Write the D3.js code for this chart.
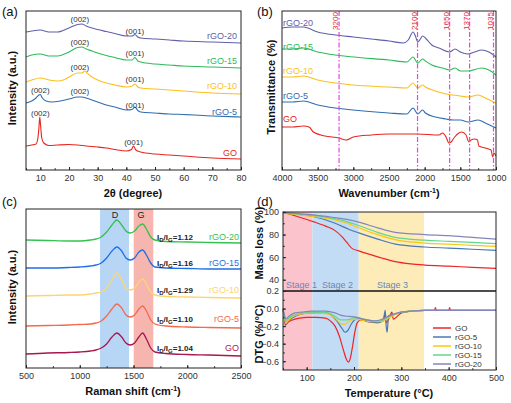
<!DOCTYPE html>
<html><head><meta charset="utf-8">
<script src="https://cdn.jsdelivr.net/npm/d3@7"></script>
<style>body{margin:0;background:#fff} text{font-family:"Liberation Sans",Arial,sans-serif}</style>
</head><body><script>
// ---------------- DATA ----------------
const samples = ["GO","rGO-5","rGO-10","rGO-15","rGO-20"];
// (a) XRD, [2theta, intensity a.u. incl. offset]
const xrdGO  = [[5,24],[7,25],[8.5,26],[9.1,31],[9.5,42],[9.8,53],[10.1,44],[10.5,32],[11.2,27],[13,24.5],[16,25],[20,25.5],[23,25],[26,24],[30,23],[33,22],[36,20.5],[40,19],[41.8,20.5],[42.5,24],[43.3,20],[45,18],[50,16],[55,15],[60,14],[70,12],[80,11]];
const xrd5   = [[5,67],[7,69],[8.5,72],[9.5,75],[10,75.5],[10.7,72],[12,69],[14,68],[17,69],[20,71],[23,73],[24.5,73],[26,72],[28,70],[30,68],[33,65],[36,63],[40,60],[42,60.5],[43,63],[44,59.5],[45,58],[50,57],[55,56],[60,55.5],[70,54],[80,53]];
const xrd10  = [[5,88],[7,90],[10,92],[13,90],[16,89],[18,90],[20,93],[23,97],[24.5,97],[25.5,99],[26.3,97],[28,93],[30,90],[33,87],[36,85],[40,83],[42,84],[43,86],[44,83],[45,82],[50,81],[55,80],[60,79],[70,77],[80,76]];
const xrd15  = [[5,113],[7,115],[10,116],[13,114],[16,114],[20,118],[23,122.5],[24.5,123],[26,121],[28,119],[30,117],[33,114.5],[36,112.5],[40,110],[42,110],[43,112.5],[44,109],[45,108],[50,106],[55,105],[60,104],[70,103],[80,102]];
const xrd20  = [[5,138],[7,139],[10,140],[13,138],[16,138],[20,142],[23,145.5],[24.5,146],[26,144],[28,142],[30,140.5],[33,138.5],[36,136.5],[40,134],[42,134],[43,135.5],[44,133],[45,132],[50,131],[55,130],[60,129],[70,128],[80,127]];
const xrdPeakLabels = [["(002)",10,57],["(001)",42.5,28],["(002)",10,80],["(002)",23.8,79],["(001)",43,65],["(002)",23.8,103],["(001)",43,91],["(002)",23.8,128],["(001)",43,117],["(002)",23.8,151],["(001)",43,139]];
const xrdNameY = [17,58,84,109,134];

// (b) FTIR, [wavenumber, transmittance a.u. incl. offset]
const ftirGO = [[4000,43],[3850,43],[3700,44],[3620,43],[3560,38],[3400,34],[3200,32],[3100,30],[3000,33],[2750,35],[2500,36],[2100,36],[1800,35],[1750,37],[1700,33],[1660,27],[1630,28],[1580,33],[1520,37],[1480,38],[1420,35],[1380,28],[1350,30],[1300,31],[1260,30],[1240,24],[1150,22],[1070,20],[1045,13],[1030,17],[1000,14]];
const ftir5  = [[4000,68],[3850,68],[3700,69],[3500,65],[3000,60],[2500,57],[2250,56],[2163,62],[2097,56],[2030,60],[1990,57],[1850,53],[1700,51],[1600,50],[1500,50],[1391,48],[1250,50],[1150,47],[1000,42]];
const ftir10 = [[4000,93],[3850,93],[3700,94],[3500,90],[3000,85],[2500,83],[2250,82],[2163,87],[2097,82],[2030,85],[1990,83],[1850,79],[1700,76],[1600,75],[1500,74],[1391,73],[1250,75],[1150,72],[1000,67]];
const ftir15 = [[4000,121],[3850,121],[3700,122],[3500,118],[3000,113],[2500,110],[2250,108],[2163,113],[2097,107],[2030,111],[1990,109],[1900,105],[1750,102],[1650,100],[1574,102],[1500,99],[1391,99],[1200,102],[1100,100],[1000,95]];
const ftir20 = [[4000,142],[3850,143],[3700,143],[3500,138],[3250,135],[3000,133],[2750,131],[2500,129],[2300,127],[2230,130],[2163,138],[2130,134],[2097,128],[2060,131],[2030,134],[1990,132],[1940,128],[1900,125],[1800,122],[1650,118],[1574,121],[1500,118],[1391,116],[1300,118],[1200,120],[1100,118],[1000,113]];
const ftirBands = [3200,2100,1650,1370,1035];
const ftirNameY = [51,74,99,123,147];

// (c) Raman, [shift, intensity a.u. incl. offset]
const ramanX = [500,700,900,1000,1100,1150,1200,1250,1300,1345,1390,1430,1470,1510,1550,1585,1620,1660,1700,1800,2000,2200,2500];
const ramanGO  = [14,15,15.5,16,17,18,20,24,31,35,31,25,23,25,31,35,29,20,16,14.5,13.5,13,12];
const raman5   = [42,42.5,43,43.5,44,45,47,52,59,64,60,53,51,53,59,62,57,48,44,42,41,40.5,40];
const raman10  = [72,72.5,73,73,74,75,76,80,88,95,88,80,78,80,86,89,84,76,73,71.5,71,70.5,70];
const raman15  = [100,100,100.5,101,102,103,105,110,117,121,117,110,108,110,116,118,113,105,101,100,99.5,99,99];
const raman20  = [128,127.5,127,127,128,129,131,136,143,148,143,137,135,137,142,144,139,131,128,126.5,126,125.5,125];
const ratioIDIG = ["1.04","1.10","1.29","1.16","1.12"];
const ramanLabelY = [20,49,78,105,131];
const bandD = [1188,1458], bandG = [1502,1684];

// (d) TGA [T, mass %] and DTG [T, %/°C]
const tgaGO = [[50,100],[80,96],[114,91.5],[140,87.5],[160,83.5],[175,78],[185,73],[195,68],[210,65.5],[237,62],[260,59],[287,56],[320,54],[350,53],[400,52],[450,51],[500,50]];
const tga5  = [[50,99],[114,96],[160,90],[190,84.5],[210,81.5],[250,76],[287,71.5],[350,69],[400,68],[450,67],[500,66]];
const tga10 = [[50,99],[114,96],[160,93],[185,90],[210,86],[250,80],[287,75.5],[350,72.5],[400,71.5],[450,70.5],[500,69.5]];
const tga15 = [[50,99],[114,97],[160,94],[185,91.5],[210,88],[250,82],[287,77.5],[350,75],[400,74],[450,73],[500,72]];
const tga20 = [[50,99.5],[114,97.5],[160,95],[185,93.5],[210,91],[250,86],[287,82],[350,80],[400,79],[450,77.5],[500,76]];
const dtgGO = [[50,0.0],[52,-0.08],[55,-0.19],[60,-0.16],[70,-0.13],[85,-0.11],[100,-0.1],[120,-0.1],[140,-0.11],[150,-0.14],[160,-0.2],[170,-0.33],[178,-0.48],[184,-0.58],[188,-0.61],[192,-0.57],[197,-0.43],[202,-0.26],[207,-0.16],[215,-0.13],[230,-0.15],[250,-0.16],[262,-0.14],[265,-0.07],[268,-0.16],[275,-0.1],[280,-0.04],[283,-0.12],[300,-0.05],[320,-0.03],[350,-0.02],[370,-0.02],[372,0.01],[374,-0.02],[400,-0.02],[402,0.01],[404,-0.02],[500,-0.02]];
const dtg5  = [[50,-0.01],[53,-0.1],[56,-0.18],[62,-0.14],[75,-0.09],[90,-0.06],[110,-0.05],[140,-0.05],[155,-0.09],[165,-0.15],[175,-0.23],[181,-0.27],[187,-0.25],[195,-0.17],[205,-0.12],[215,-0.12],[230,-0.15],[250,-0.16],[262,-0.13],[266,-0.02],[268,-0.2],[270,-0.27],[273,-0.08],[285,-0.07],[300,-0.04],[350,-0.02],[500,-0.02]];
const dtg10 = [[50,-0.01],[53,-0.1],[56,-0.17],[62,-0.13],[75,-0.08],[90,-0.06],[110,-0.05],[145,-0.06],[160,-0.11],[172,-0.17],[180,-0.18],[188,-0.15],[200,-0.12],[215,-0.13],[235,-0.15],[255,-0.15],[275,-0.1],[300,-0.04],[350,-0.02],[500,-0.02]];
const dtg15 = [[50,-0.01],[53,-0.09],[56,-0.15],[62,-0.11],[75,-0.07],[90,-0.05],[110,-0.04],[145,-0.05],[160,-0.09],[172,-0.13],[182,-0.13],[192,-0.12],[205,-0.1],[220,-0.12],[240,-0.14],[255,-0.14],[275,-0.09],[300,-0.04],[350,-0.02],[500,-0.02]];
const dtg20 = [[50,-0.01],[53,-0.07],[56,-0.12],[62,-0.09],[75,-0.05],[90,-0.04],[110,-0.03],[140,-0.03],[160,-0.05],[175,-0.08],[190,-0.09],[205,-0.1],[220,-0.12],[240,-0.14],[255,-0.13],[275,-0.08],[300,-0.04],[350,-0.02],[500,-0.02]];
const stages = [["Stage 1",50,112],["Stage 2",112,210],["Stage 3",210,348]];

// ---------------- DRAW ----------------
const svg = d3.select("body").append("svg").attr("width",511).attr("height",403);
const FONT = '"Liberation Sans", Arial, sans-serif';
const colA = ["#e8251f","#2f6cb0","#fcbf1e","#2dbb5a","#5f60a8"];
const colC = ["#a8174f","#f26b4c","#ffd470","#1f6fe6","#35c150"];
const colD = ["#f02424","#4a79b5","#f9c80e","#62d68c","#8585bb"];

function xAxis(x, y0, majors, minors, pad) {
  const g1 = svg.append("g").attr("transform",`translate(0,${y0})`)
    .call(d3.axisBottom(x).tickValues(minors).tickSize(-1.8).tickFormat(""));
  const g2 = svg.append("g").attr("transform",`translate(0,${y0})`)
    .call(d3.axisBottom(x).tickValues(majors).tickSize(-3).tickPadding(pad).tickFormat(d3.format("d")));
  [g1,g2].forEach(g=>{g.select(".domain").remove(); g.selectAll("line").attr("stroke","#222");});
  g2.selectAll("text").attr("font-size",9).attr("fill","#333").attr("font-family",FONT);
}
function yAxis(y, x0, majors, minors, fmt) {
  const g1 = svg.append("g").attr("transform",`translate(${x0},0)`)
    .call(d3.axisLeft(y).tickValues(minors).tickSize(-1.8).tickFormat(""));
  const g2 = svg.append("g").attr("transform",`translate(${x0},0)`)
    .call(d3.axisLeft(y).tickValues(majors).tickSize(-3).tickPadding(4).tickFormat(fmt));
  [g1,g2].forEach(g=>{g.select(".domain").remove(); g.selectAll("line").attr("stroke","#222");});
  g2.selectAll("text").attr("font-size",9).attr("fill","#333").attr("font-family",FONT);
}
function frame(x0,y0,x1,y1){
  svg.append("rect").attr("x",x0).attr("y",y0).attr("width",x1-x0).attr("height",y1-y0)
    .attr("fill","none").attr("stroke","#222").attr("stroke-width",1);
}
function title(txt,x,y,rot){
  const t = svg.append("text").attr("text-anchor","middle").attr("font-size",11).attr("font-weight","bold")
    .attr("fill","#111").attr("font-family",FONT);
  if(rot){ t.attr("transform",`translate(${x},${y}) rotate(-90)`).attr("dy","0.35em"); }
  else { t.attr("x",x).attr("y",y).attr("dy","0.35em"); }
  return t;
}
function panelLabel(txt,x,y){
  svg.append("text").attr("x",x).attr("y",y).attr("dy","0.35em").attr("font-size",13).attr("fill","#111").text(txt);
}
function path(data,x,y,color,w){
  svg.append("path").datum(data).attr("fill","none").attr("stroke",color).attr("stroke-width",w||1.2)
    .attr("stroke-linejoin","round")
    .attr("d", d3.line().x(d=>x(d[0])).y(d=>y(d[1])).curve(d3.curveMonotoneX));
}

// ---- (a) XRD
{
  const x = d3.scaleLinear().domain([5,80]).range([26,241]);
  const y = d3.scaleLinear().domain([0,159]).range([170,11]);
  [xrdGO,xrd5,xrd10,xrd15,xrd20].forEach((d,i)=>path(d,x,y,colA[i],1.1));
  xrdPeakLabels.forEach(l=>svg.append("text").attr("x",x(l[1])).attr("y",y(l[2])).attr("dy","0.35em")
     .attr("text-anchor","middle").attr("font-size",8).attr("fill","#333").text(l[0]));
  samples.forEach((s,i)=>svg.append("text").attr("x",237).attr("y",y(xrdNameY[i])).attr("dy","0.35em")
     .attr("text-anchor","end").attr("font-size",9).attr("fill",colA[i]).text(s));
  frame(26,11,241,170);
  xAxis(x,170,d3.range(10,81,10),d3.range(5,81,5),5);
  title("",133,193).text("2θ (degree)");
  title("Intensity (a.u.)",12,88,true).text("Intensity (a.u.)");
  panelLabel("(a)",2,11);
}
// ---- (b) FTIR
{
  const x = d3.scaleLinear().domain([4000,1000]).range([282,496]);
  const y = d3.scaleLinear().domain([0,159]).range([170,11]);
  [ftirGO,ftir5,ftir10,ftir15,ftir20].forEach((d,i)=>path(d,x,y,colA[i],1.1));
  ftirBands.forEach(b=>{
    svg.append("line").attr("x1",x(b)).attr("x2",x(b)).attr("y1",11).attr("y2",170)
      .attr("stroke","#e843e8").attr("stroke-width",1.2).attr("stroke-dasharray","5,2,1.5,2");
    svg.append("text").attr("transform",`translate(${x(b)-1},21) rotate(-90)`).attr("text-anchor","middle")
      .attr("font-size",8).attr("fill","#e8251f").text(b);
  });
  samples.forEach((s,i)=>svg.append("text").attr("x",283).attr("y",y(ftirNameY[i])).attr("dy","0.35em")
     .attr("font-size",9).attr("fill",colA[i]).text(s));
  frame(282,11,496,170);
  xAxis(x,170,d3.range(4000,999,-500),d3.range(4000,999,-250),5);
  const t = title("",389,193); t.text("Wavenumber (cm"); t.append("tspan").attr("font-size",7).attr("dy",-4).text("-1");
  t.append("tspan").attr("dy",4).text(")");
  title("",271,87,true).text("Transmittance (%)");
  panelLabel("(b)",257,11);
}
// ---- (c) Raman
{
  const x = d3.scaleLinear().domain([500,2500]).range([26,241]);
  const y = d3.scaleLinear().domain([0,159]).range([368,209]);
  svg.append("rect").attr("x",x(bandD[0])).attr("width",x(bandD[1])-x(bandD[0])).attr("y",209).attr("height",159).attr("fill","#b7d6f6");
  svg.append("rect").attr("x",x(bandG[0])).attr("width",x(bandG[1])-x(bandG[0])).attr("y",209).attr("height",159).attr("fill","#f6b5ae");
  svg.append("text").attr("x",115).attr("y",215).attr("dy","0.35em").attr("text-anchor","middle").attr("font-size",9).attr("fill","#222").text("D");
  svg.append("text").attr("x",141).attr("y",215).attr("dy","0.35em").attr("text-anchor","middle").attr("font-size",9).attr("fill","#222").text("G");
  [ramanGO,raman5,raman10,raman15,raman20].forEach((v,i)=>path(ramanX.map((xx,j)=>[xx,v[j]]),x,y,colC[i],1.3));
  samples.forEach((s,i)=>{
    svg.append("text").attr("x",239).attr("y",y(ramanLabelY[i])).attr("dy","0.35em")
     .attr("text-anchor","end").attr("font-size",9).attr("fill",colC[i]).text(s);
    const t = svg.append("text").attr("x",157).attr("y",y(ramanLabelY[i])).attr("dy","0.35em")
     .attr("font-size",8).attr("font-weight","bold").attr("fill","#222");
    t.append("tspan").text("I");
    t.append("tspan").attr("font-size",6).attr("dy",2).text("D");
    t.append("tspan").attr("dy",-2).text("/I");
    t.append("tspan").attr("font-size",6).attr("dy",2).text("G");
    t.append("tspan").attr("dy",-2).text("="+ratioIDIG[i]);
  });
  frame(26,209,241,368);
  xAxis(x,368,d3.range(500,2501,500),d3.range(500,2501,250),5);
  const t = title("",133,391); t.text("Raman shift (cm"); t.append("tspan").attr("font-size",7).attr("dy",-4).text("-1");
  t.append("tspan").attr("dy",4).text(")");
  title("",12,287,true).text("Intensity (a.u.)");
  panelLabel("(c)",2,201);
}
// ---- (d) TGA / DTG
{
  const x = d3.scaleLinear().domain([50,500]).range([283,496]);
  const yT = d3.scaleLinear().domain([30,100]).range([291,212]);
  const yD = d3.scaleLinear().domain([-0.7,0.2]).range([370,291]);
  const stageCol = ["#fbc3cc","#c3dcf6","#fdebb8"];
  stages.forEach((s,i)=>{
    svg.append("rect").attr("x",x(s[1])).attr("width",x(s[2])-x(s[1])).attr("y",212).attr("height",158).attr("fill",stageCol[i]);
  });
  stages.forEach((s,i)=>svg.append("text").attr("x",[286,322,377][i]).attr("y",285).attr("dy","0.35em")
     .attr("font-size",9).attr("fill","#6b86b8").text(s[0]));
  [tgaGO,tga5,tga10,tga15,tga20].forEach((d,i)=>path(d,x,yT,colD[i],1.2));
  [dtgGO,dtg5,dtg10,dtg15,dtg20].forEach((d,i)=>path(d,x,yD,colD[i],1.2));
  samples.forEach((s,i)=>{
    const yy = 328 + i*9;
    svg.append("line").attr("x1",433).attr("x2",451).attr("y1",yy).attr("y2",yy).attr("stroke",colD[i]).attr("stroke-width",1.5);
    svg.append("text").attr("x",455).attr("y",yy).attr("dy","0.35em").attr("font-size",8).attr("fill","#333").text(s);
  });
  frame(283,212,496,370);
  svg.append("line").attr("x1",283).attr("x2",496).attr("y1",291).attr("y2",291).attr("stroke","#111").attr("stroke-width",1.4);
  xAxis(x,370,d3.range(100,501,100),d3.range(50,501,50),5);
  yAxis(yT,283,[40,60,80,100],[40,50,60,70,80,90,100],d3.format("d"));
  yAxis(yD,283,[0.2,0,-0.2,-0.4,-0.6],[0.2,0.1,0,-0.1,-0.2,-0.3,-0.4,-0.5,-0.6],d3.format(".1f"));
  title("",389,393).text("Temperature (°C)");
  title("",259,243,true).text("Mass loss (%)");
  title("",259,334,true).text("DTG (%/°C)");
  panelLabel("(d)",257,201);
}
</script></body></html>
